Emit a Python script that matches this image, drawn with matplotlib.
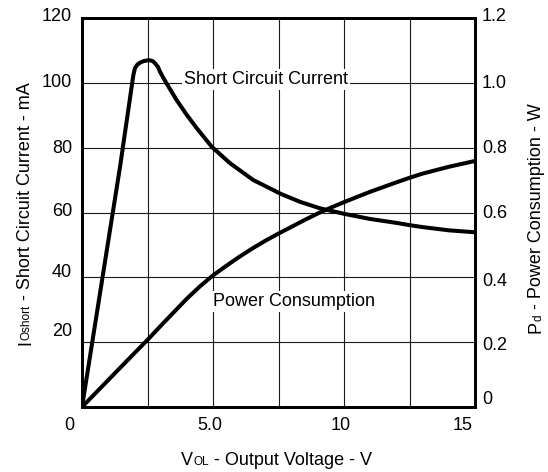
import matplotlib
matplotlib.use("Agg")
import matplotlib.pyplot as plt
from matplotlib.transforms import IdentityTransform

plt.rcParams['font.family'] = ['Liberation Sans', 'DejaVu Sans']

# ---------------- data ----------------
x_current = [0, 1.13, 1.45, 1.96, 2.02, 2.1, 2.21, 2.35, 2.56, 2.7, 2.79, 2.9, 2.98, 3.1, 3.23,
             3.61, 4.0, 4.38, 4.95, 5.65, 6.54, 7.6, 8.32, 9.08, 10.0, 11.0, 12.0, 12.5, 13.0,
             14.0, 15.0]
current_ma = [0, 57.7, 74, 102.4, 104.5, 105.5, 106.2, 106.7, 107.0, 106.7, 106.0, 104.9, 103.4,
              101.6, 99.8, 94.7, 90.1, 86.0, 80.3, 75.2, 70.0, 65.7, 63.3, 61.3, 59.6, 58.0,
              56.8, 56.1, 55.5, 54.5, 53.9]

x_power = [0, 1, 2, 2.5, 3, 3.5, 4, 4.5, 5, 5.5, 6, 6.5, 7, 7.5, 8, 8.5, 9, 9.5, 10, 11, 12,
           12.5, 13, 14, 15]
power_w = [0, 0.083, 0.166, 0.207, 0.25, 0.292, 0.334, 0.372, 0.406, 0.435, 0.463, 0.489, 0.513,
           0.535, 0.556, 0.577, 0.597, 0.615, 0.632, 0.664, 0.693, 0.707, 0.72, 0.741, 0.759]

x_grid = [0, 2.5, 5, 7.5, 10, 12.5, 15]
y_grid = [0, 20, 40, 60, 80, 100, 120]
x_tick_values = [0, 5, 10, 15]
x_tick_labels = ["0", "5.0", "10", "15"]
left_tick_values = [20, 40, 60, 80, 100, 120]
left_tick_labels = ["20", "40", "60", "80", "100", "120"]
right_tick_values = [0, 0.2, 0.4, 0.6, 0.8, 1.0, 1.2]
right_tick_labels = ["0", "0.2", "0.4", "0.6", "0.8", "1.0", "1.2"]

# ---------------- style ----------------
FS = 13
SUB = 8.5
W, H = 548, 472
fig = plt.figure(figsize=(W / 100, H / 100), dpi=100)
L, R, T, B = 82, 475, 18, 407
ax = fig.add_axes([L / W, 1 - B / H, (R - L) / W, (B - T) / H])
ax.set_xlim(0, 15)
ax.set_ylim(0, 120)
ax2 = ax.twinx()
ax2.set_ylim(0, 1.2)

ax.set_xticks(x_grid)
ax.set_yticks(y_grid)
ax.grid(True, color='#1a1a1a', lw=0.8)
ax.set_axisbelow(True)
ax.tick_params(length=0, labelbottom=False, labelleft=False)
ax2.set_yticks(right_tick_values)
ax2.tick_params(length=0, labelright=False)

for a in (ax, ax2):
    for s in a.spines.values():
        s.set_linewidth(2.0)
        s.set_color('black')

line_kw = dict(color='black', lw=2.9, solid_joinstyle='round', solid_capstyle='round')
ax.plot(x_current, current_ma, **line_kw)
ax2.plot(x_power, power_w, **line_kw)

# curve labels
box = dict(boxstyle='square,pad=0.12', fc='white', ec='none')
ax2.text(7.02, 99.6, "Short Circuit Current", transform=ax.transData, ha='center',
         va='baseline', fontsize=FS, bbox=box, zorder=5)
ax2.text(8.11, 31.2, "Power Consumption", transform=ax.transData, ha='center',
         va='baseline', fontsize=FS, bbox=box, zorder=5)

# tick labels (pixel nudges follow the reference)
cap_half = 0.716 * FS * 100 / 72 / 2
x_nudge = [-13, -3, -3.5, -12]
for v, s, dx in zip(x_tick_values, x_tick_labels, x_nudge):
    ax.annotate(s, xy=(v, 0), xycoords=('data', 'axes fraction'), xytext=(dx, -22.5),
                textcoords='offset pixels', ha='center', va='baseline', fontsize=FS,
                annotation_clip=False)
left_nudge = [13, 7, 3, 1, 2, 3]
for v, s, dy in zip(left_tick_values, left_tick_labels, left_nudge):
    ax.annotate(s, xy=(0, v), xycoords=('axes fraction', 'data'), xytext=(-10, dy - cap_half),
                textcoords='offset pixels', ha='right', va='baseline', fontsize=FS,
                annotation_clip=False)
right_nudge = [9, -1, -2, 1, 0.7, 1, 3]
for v, s, dy in zip(right_tick_values, right_tick_labels, right_nudge):
    ax2.annotate(s, xy=(1, v), xycoords=('axes fraction', 'data'), xytext=(7, dy - cap_half),
                 textcoords='offset pixels', ha='left', va='baseline', fontsize=FS,
                 annotation_clip=False)

# composite axis labels with small-size "subscripts" on the baseline
renderer = fig.canvas.get_renderer()


def text_width(s, fs):
    t = fig.text(0, 0, s, fontsize=fs, transform=IdentityTransform())
    w = t.get_window_extent(renderer).width
    t.remove()
    return w


def advance(s, fs):
    return text_width("X" + s + "X", fs) - text_width("XX", fs)


def composite(parts, center, base, vertical):
    widths = [advance(s, fs) for s, fs in parts]
    pos = center - sum(widths) / 2
    for (s, fs), w in zip(parts, widths):
        if vertical:
            fig.text(base, pos, s, fontsize=fs, rotation=90, rotation_mode='anchor',
                     ha='left', va='baseline', transform=IdentityTransform())
        else:
            fig.text(pos, base, s, fontsize=fs, ha='left', va='baseline',
                     transform=IdentityTransform())
        pos += w


composite([("V", FS), ("OL", SUB), (" - Output Voltage - V", FS)], 276.5, 7, False)
composite([("I", FS), ("Oshort", SUB), (" - Short Circuit Current - mA", FS)], 258.5, 30, True)
composite([("P", FS), ("d", SUB), (" - Power Consumption - W", FS)], 254, 541, True)

fig.savefig("out.png", dpi=100)
